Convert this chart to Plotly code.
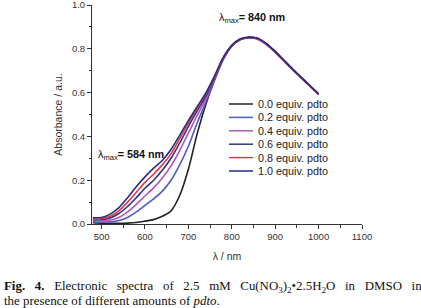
import plotly.graph_objects as go

wavelength = [480, 500, 520, 540, 560, 580, 600, 620, 640, 660, 680, 700, 720, 740,
              760, 780, 800, 820, 840, 860, 880, 900, 920, 940, 960, 980, 1000]

abs_00 = [0.006, 0.004, 0.003, 0.003, 0.004, 0.007, 0.013, 0.020, 0.035, 0.060, 0.130, 0.250, 0.410, 0.545,
          0.655, 0.750, 0.812, 0.842, 0.851, 0.846, 0.821, 0.786, 0.746, 0.706, 0.668, 0.630, 0.592]
abs_02 = [0.010, 0.008, 0.010, 0.016, 0.030, 0.055, 0.085, 0.115, 0.150, 0.200, 0.270, 0.355, 0.460, 0.555,
          0.657, 0.751, 0.812, 0.842, 0.851, 0.846, 0.821, 0.786, 0.746, 0.706, 0.668, 0.630, 0.592]
abs_04 = [0.015, 0.014, 0.018, 0.030, 0.055, 0.090, 0.128, 0.165, 0.210, 0.265, 0.335, 0.415, 0.495, 0.570,
          0.660, 0.753, 0.812, 0.842, 0.849, 0.843, 0.818, 0.784, 0.744, 0.705, 0.667, 0.629, 0.591]
abs_06 = [0.020, 0.020, 0.028, 0.048, 0.080, 0.120, 0.163, 0.200, 0.245, 0.300, 0.370, 0.445, 0.515, 0.583,
          0.665, 0.755, 0.814, 0.844, 0.852, 0.847, 0.822, 0.787, 0.747, 0.707, 0.669, 0.631, 0.593]
abs_08 = [0.022, 0.024, 0.035, 0.060, 0.100, 0.145, 0.190, 0.228, 0.270, 0.320, 0.390, 0.460, 0.528, 0.592,
          0.670, 0.757, 0.815, 0.845, 0.852, 0.846, 0.821, 0.786, 0.746, 0.706, 0.668, 0.630, 0.592]
abs_10 = [0.028, 0.030, 0.045, 0.075, 0.120, 0.170, 0.215, 0.255, 0.290, 0.340, 0.405, 0.472, 0.535, 0.597,
          0.675, 0.760, 0.816, 0.846, 0.853, 0.848, 0.823, 0.788, 0.748, 0.708, 0.670, 0.632, 0.594]

series_names = ["0.0 equiv. pdto", "0.2 equiv. pdto", "0.4 equiv. pdto",
                "0.6 equiv. pdto", "0.8 equiv. pdto", "1.0 equiv. pdto"]
series_values = [abs_00, abs_02, abs_04, abs_06, abs_08, abs_10]
series_colors = ["#222222", "#4a5cc0", "#b456b8", "#2c3580", "#e23a48", "#2a2a86"]

x_ticks = [500, 600, 700, 800, 900, 1000, 1100]
y_ticks = [0.0, 0.2, 0.4, 0.6, 0.8, 1.0]

W, H = 421, 308
ML, MR, MT, MB = 92, 59, 5, 84
PW, PH = W - ML - MR, H - MT - MB

fig = go.Figure()
for name, vals, col in zip(series_names, series_values, series_colors):
    fig.add_trace(go.Scatter(x=wavelength, y=vals, mode="lines", name=name,
                             line=dict(color=col, width=1.6, shape="spline", smoothing=0.8),
                             showlegend=False))

def px2paper(px, py):
    return (px - ML) / PW, (H - MB - py) / PH

shapes = []
annotations = []
# manual legend
row0, dy = 104, 13.4
for i, (name, col) in enumerate(zip(series_names, series_colors)):
    py = row0 + i * dy
    x0, y0 = px2paper(229, py)
    x1, _ = px2paper(253, py)
    shapes.append(dict(type="line", xref="paper", yref="paper", x0=x0, x1=x1, y0=y0, y1=y0,
                       line=dict(color=col, width=1.5)))
    tx, _ = px2paper(256, py)
    annotations.append(dict(xref="paper", yref="paper", x=tx, y=y0, xanchor="left", yanchor="middle",
                            text=name, showarrow=False,
                            font=dict(family="Liberation Sans, Arial", size=10.8, color="#222")))

# lambda max labels
ax, ay = px2paper(217, 18)
annotations.append(dict(xref="paper", yref="paper", x=ax, y=ay, xanchor="left", yanchor="middle",
                        text="λ<sub>max</sub><b>= 840 nm</b>", showarrow=False,
                        font=dict(family="Liberation Sans, Arial", size=10.8, color="#111")))
ax, ay = px2paper(96, 155)
annotations.append(dict(xref="paper", yref="paper", x=ax, y=ay, xanchor="left", yanchor="middle",
                        text="λ<sub>max</sub><b>= 584 nm</b>", showarrow=False,
                        font=dict(family="Liberation Sans, Arial", size=10.8, color="#111")))

# caption (first line justified with widened gaps)
gap = " &nbsp;&nbsp;"
words1 = ["<b>Fig.</b>", "<b>4.</b>", "Electronic", "spectra", "of", "2.5", "mM",
          "Cu(NO<sub>3</sub>)<sub>2</sub>•2.5H<sub>2</sub>O", "in", "DMSO", "in"]
cx, cy = px2paper(2, 287)
annotations.append(dict(xref="paper", yref="paper", x=cx, y=cy, xanchor="left", yanchor="middle",
                        text=gap.join(words1),
                        showarrow=False, align="left",
                        font=dict(family="Liberation Serif, Times New Roman", size=12.9, color="#111")))
cx, cy = px2paper(2, 301)
annotations.append(dict(xref="paper", yref="paper", x=cx, y=cy, xanchor="left", yanchor="middle",
                        text="the presence of different amounts of <i>pdto</i>.",
                        showarrow=False, align="left",
                        font=dict(family="Liberation Serif, Times New Roman", size=12.9, color="#111")))

axis_font = dict(family="Liberation Sans, Arial", size=9.5, color="#333")
fig.update_layout(
    width=W, height=H,
    margin=dict(l=ML, r=MR, t=MT, b=MB, autoexpand=False),
    paper_bgcolor="white", plot_bgcolor="white",
    shapes=shapes, annotations=annotations,
    xaxis=dict(range=[478, 1100], tickvals=x_ticks,
               automargin=False, ticklabeloverflow="allow",
               ticks="outside", ticklen=4, tickwidth=1, tickcolor="#333",
               minor=dict(ticks="outside", ticklen=2.5, tickwidth=1, tickcolor="#333", dtick=50, tick0=0),
               showline=True, linecolor="#333", linewidth=1, showgrid=False, zeroline=False,
               tickfont=axis_font,
               title=dict(text="λ / nm", font=dict(family="Liberation Sans, Arial", size=10.5, color="#333"),
                          standoff=11)),
    yaxis=dict(range=[0, 1.0], tickvals=y_ticks, tickformat=".1f",
               automargin=False, ticklabeloverflow="allow",
               ticks="outside", ticklen=4, tickwidth=1, tickcolor="#333",
               minor=dict(ticks="outside", ticklen=2.5, tickwidth=1, tickcolor="#333", dtick=0.1, tick0=0),
               showline=True, linecolor="#333", linewidth=1, showgrid=False, zeroline=False,
               tickfont=axis_font,
               title=dict(text="Absorbance / a.u.", font=dict(family="Liberation Sans, Arial", size=10.5, color="#333"),
                          standoff=7)),
)

fig.write_html("out.html", config={"displayModeBar": False},
               post_script="document.body.style.margin='0';")
